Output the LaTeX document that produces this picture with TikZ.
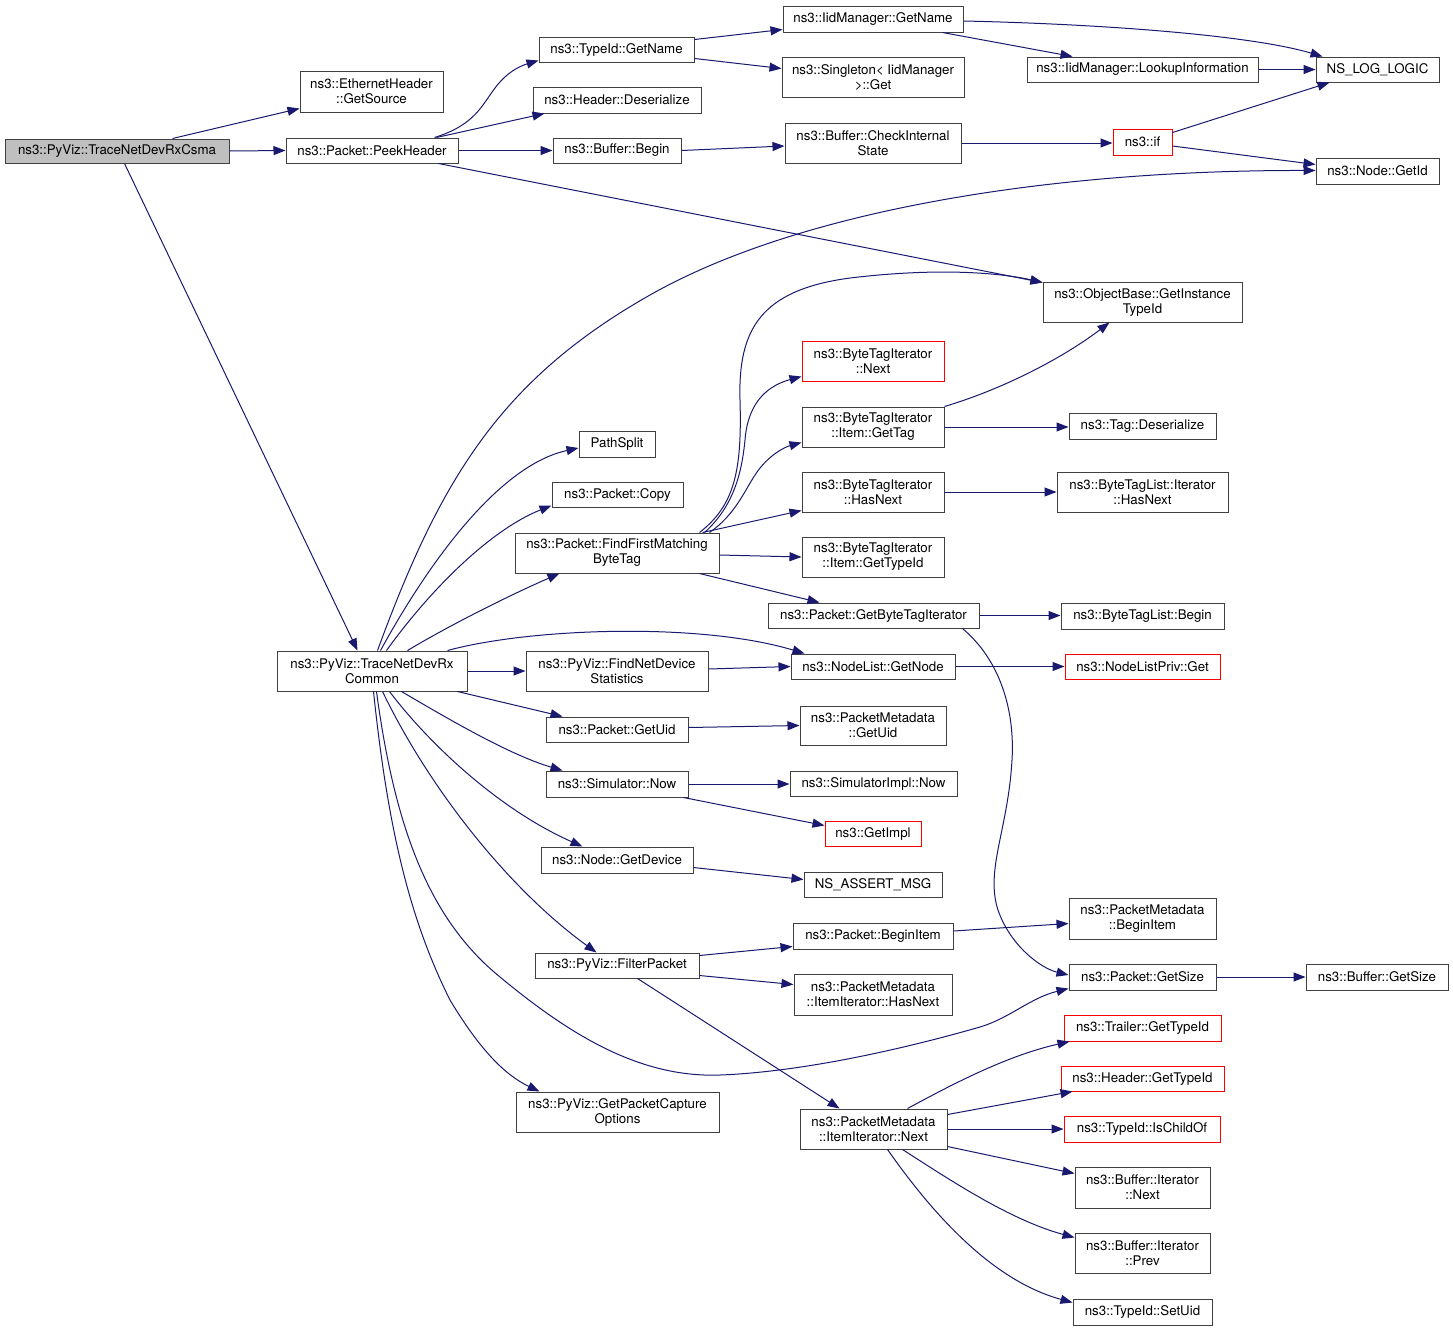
\documentclass[tikz,border=0pt]{standalone}
\usepackage{fontspec}
\setmainfont{TeX Gyre Heros}
\usetikzlibrary{arrows.meta}
\definecolor{navy}{HTML}{191970}
\definecolor{bord}{HTML}{404040}
\newcommand\nd[7]{\node[#7, minimum width={(#4-#2)*1pt}, minimum height={(#5-#3)*1pt}] (#1) at ({(#2+#4)/2},{-(#3+#5)/2}) {#6};}
\tikzset{
 bx/.style={draw=bord, line width=1pt, fill=white, inner sep=0pt, align=center, font=\fontsize{13.3}{15}\selectfont},
 rbx/.style={bx, draw=red},
 gbx/.style={bx, fill=black!25},
 conn/.style={draw=navy, line width=1pt, -{Triangle[length=12pt,width=9pt]}},
}
\begin{document}
\begin{tikzpicture}[x=1pt,y=1pt]
\useasboundingbox (0,0) rectangle (1453,-1331);
\fill[white] (0,0) rectangle (1453,-1331);
\nd{A}{5}{139}{229}{163}{ns3::PyViz::TraceNetDevRxCsma}{gbx}
\nd{eth}{300}{71}{443}{112}{ns3::EthernetHeader\\::GetSource}{bx}
\nd{peek}{286}{138}{458}{163}{ns3::Packet::PeekHeader}{bx}
\nd{tid}{539}{37}{694}{62}{ns3::TypeId::GetName}{bx}
\nd{hdes}{533}{87}{701}{113}{ns3::Header::Deserialize}{bx}
\nd{bbeg}{553}{138}{681}{163}{ns3::Buffer::Begin}{bx}
\nd{iidn}{783}{6}{963}{32}{ns3::IidManager::GetName}{bx}
\nd{sing}{782}{57}{964}{97}{ns3::Singleton< IidManager\\>::Get}{bx}
\nd{chk}{785}{123}{961}{163}{ns3::Buffer::CheckInternal\\State}{bx}
\nd{look}{1027}{57}{1258}{82}{ns3::IidManager::LookupInformation}{bx}
\nd{log}{1316}{57}{1439}{82}{NS\_LOG\_LOGIC}{bx}
\nd{nif}{1113}{129}{1172}{155}{ns3::if}{rbx}
\nd{gid}{1316}{158}{1439}{184}{ns3::Node::GetId}{bx}
\nd{obj}{1043}{282}{1242}{322}{ns3::ObjectBase::GetInstance\\TypeId}{bx}
\nd{btnext}{802}{341}{944}{381}{ns3::ByteTagIterator\\::Next}{rbx}
\nd{gtag}{802}{407}{944}{447}{ns3::ByteTagIterator\\::Item::GetTag}{bx}
\nd{hnext}{802}{472}{944}{512}{ns3::ByteTagIterator\\::HasNext}{bx}
\nd{igtid}{802}{537}{944}{577}{ns3::ByteTagIterator\\::Item::GetTypeId}{bx}
\nd{gbti}{768}{603}{979}{628}{ns3::Packet::GetByteTagIterator}{bx}
\nd{psplit}{579}{431}{655}{457}{PathSplit}{bx}
\nd{copy}{552}{482}{683}{507}{ns3::Packet::Copy}{bx}
\nd{ffm}{515}{533}{719}{573}{ns3::Packet::FindFirstMatching\\ByteTag}{bx}
\nd{tagdes}{1069}{413}{1216}{439}{ns3::Tag::Deserialize}{bx}
\nd{btlhn}{1057}{472}{1228}{512}{ns3::ByteTagList::Iterator\\::HasNext}{bx}
\nd{btlbeg}{1061}{603}{1224}{629}{ns3::ByteTagList::Begin}{bx}
\nd{nlpriv}{1065}{654}{1220}{679}{ns3::NodeListPriv::Get}{rbx}
\nd{com}{277}{651}{467}{691}{ns3::PyViz::TraceNetDevRx\\Common}{bx}
\nd{fnds}{526}{651}{708}{691}{ns3::PyViz::FindNetDevice\\Statistics}{bx}
\nd{nlget}{791}{654}{955}{679}{ns3::NodeList::GetNode}{bx}
\nd{guid}{546}{717}{688}{742}{ns3::Packet::GetUid}{bx}
\nd{pmguid}{800}{706}{946}{745}{ns3::PacketMetadata\\::GetUid}{bx}
\nd{snow}{546}{771}{688}{797}{ns3::Simulator::Now}{bx}
\nd{simpl}{790}{771}{957}{796}{ns3::SimulatorImpl::Now}{bx}
\nd{gimpl}{825}{821}{921}{846}{ns3::GetImpl}{rbx}
\nd{gdev}{541}{847}{693}{873}{ns3::Node::GetDevice}{bx}
\nd{assert}{804}{872}{942}{897}{NS\_ASSERT\_MSG}{bx}
\nd{pbeg}{793}{923}{953}{949}{ns3::Packet::BeginItem}{bx}
\nd{filt}{535}{953}{699}{978}{ns3::PyViz::FilterPacket}{bx}
\nd{pmhn}{794}{974}{952}{1015}{ns3::PacketMetadata\\::ItemIterator::HasNext}{bx}
\nd{cap}{516}{1092}{719}{1132}{ns3::PyViz::GetPacketCapture\\Options}{bx}
\nd{pmnext}{800}{1109}{947}{1149}{ns3::PacketMetadata\\::ItemIterator::Next}{bx}
\nd{pmbeg}{1069}{898}{1216}{939}{ns3::PacketMetadata\\::BeginItem}{bx}
\nd{gsz}{1069}{964}{1216}{990}{ns3::Packet::GetSize}{bx}
\nd{bgsz}{1306}{964}{1448}{990}{ns3::Buffer::GetSize}{bx}
\nd{trl}{1064}{1015}{1221}{1041}{ns3::Trailer::GetTypeId}{rbx}
\nd{hgt}{1061}{1066}{1224}{1091}{ns3::Header::GetTypeId}{rbx}
\nd{ischild}{1064}{1116}{1220}{1142}{ns3::TypeId::IsChildOf}{rbx}
\nd{binext}{1075}{1167}{1210}{1208}{ns3::Buffer::Iterator\\::Next}{bx}
\nd{biprev}{1075}{1233}{1210}{1273}{ns3::Buffer::Iterator\\::Prev}{bx}
\nd{setuid}{1073}{1299}{1212}{1325}{ns3::TypeId::SetUid}{bx}
% edges
\draw[conn] ([xshift=168pt]A.north west) -- ([yshift=4pt]eth.south west);
\draw[conn] (A.east) -- (peek.west);
\draw[conn] ([xshift=120pt]A.south west) -- ([xshift=81pt]com.north west);
\draw[conn] ([xshift=149pt]peek.north west) .. controls (475,-125) and (482,-105) .. (495,-88) .. controls (507,-72) and (520,-66) .. ([yshift=2pt]tid.south west);
\draw[conn] ([xshift=151pt]peek.north west) -- ([xshift=12pt]hdes.south west);
\draw[conn] (peek.east) -- (bbeg.west);
\draw[conn] ([xshift=-20pt]peek.south east) -- ([yshift=-1pt]obj.north west);
\draw[conn] ([yshift=-3pt]tid.north east) -- ([yshift=3pt]iidn.south west);
\draw[conn] ([yshift=4pt]tid.south east) -- ([yshift=-12pt]sing.north west);
\draw[conn] ([yshift=-2pt]iidn.east) .. controls (1100,-24) and (1250,-35) .. ([xshift=7pt]log.north west);
\draw[conn] ([xshift=-21pt]iidn.south east) -- ([xshift=46pt]look.north west);
\draw[conn] (look.east) -- (log.west);
\draw[conn] (bbeg.east) -- ([yshift=-3pt]chk.west);
\draw[conn] (chk.east) -- (nif.west |- chk.east);
\draw[conn] ([yshift=-4pt]nif.north east) -- ([xshift=14pt]log.south west);
\draw[conn] ([yshift=-4pt]nif.east) -- ([yshift=-7pt]gid.north west);
\draw[conn] ([xshift=101pt]com.north west) .. controls (440,-480) and (500,-380) .. (650,-295) .. controls (800,-210) and (1050,-170) .. ([yshift=-13pt]gid.north west);
\draw[conn] ([xshift=104pt]com.north west) .. controls (430,-560) and (500,-465) .. ([yshift=-4pt]psplit.west);
\draw[conn] ([xshift=110pt]com.north west) .. controls (430,-590) and (490,-530) .. ([yshift=2pt]copy.south west);
\draw[conn] ([xshift=131pt]com.north west) .. controls (450,-625) and (510,-595) .. ([xshift=45pt]ffm.south west);
\draw[conn] ([xshift=171pt]com.north west) .. controls (530,-628) and (700,-622) .. ([xshift=14pt]nlget.north west);
\draw[conn] (com.east) -- (fnds.west);
\draw[conn] ([xshift=-10pt]com.south east) -- ([xshift=17pt]guid.north west);
\draw[conn] ([xshift=125pt]com.south west) .. controls (450,-720) and (510,-755) .. ([xshift=17pt]snow.north west);
\draw[conn] ([xshift=113pt]com.south west) .. controls (430,-745) and (500,-810) .. ([xshift=42pt]gdev.north west);
\draw[conn] ([xshift=106pt]com.south west) .. controls (430,-790) and (510,-890) .. ([xshift=62pt]filt.north west);
\draw[conn] ([xshift=100pt]com.south west) .. controls (395,-830) and (430,-920) .. (500,-977) .. controls (570,-1035) and (640,-1078) .. (720,-1075) .. controls (800,-1072) and (900,-1050) .. (980,-1027) .. controls (1010,-1018) and (1030,-998) .. ([yshift=2pt]gsz.south west);
\draw[conn] ([xshift=97pt]com.south west) .. controls (388,-830) and (410,-920) .. (450,-1000) .. controls (480,-1050) and (505,-1075) .. ([xshift=24pt]cap.north west);
\draw[conn] ([xshift=185pt]ffm.north west) .. controls (735,-505) and (742,-470) .. (740,-400) .. controls (738,-330) and (760,-290) .. (850,-278) .. controls (950,-266) and (1010,-275) .. ([yshift=-1pt]obj.north west);
\draw[conn] ([xshift=190pt]ffm.north west) .. controls (735,-505) and (742,-470) .. (745,-440) .. controls (748,-400) and (770,-385) .. ([yshift=5pt]btnext.south west);
\draw[conn] ([xshift=195pt]ffm.north west) .. controls (735,-515) and (745,-490) .. (755,-475) .. controls (768,-455) and (785,-447) .. ([yshift=5pt]gtag.south west);
\draw[conn] ([xshift=188pt]ffm.north west) -- ([yshift=2pt]hnext.south west);
\draw[conn] ([yshift=-2pt]ffm.east) -- (igtid.west);
\draw[conn] ([xshift=185pt]ffm.south west) -- ([xshift=52pt]gbti.north west);
\draw[conn] (gtag.north east) .. controls (1000,-390) and (1060,-360) .. ([xshift=67pt]obj.south west);
\draw[conn] (gtag.east) -- (tagdes.west |- gtag.east);
\draw[conn] (hnext.east) -- (btlhn.west |- hnext.east);
\draw[conn] (gbti.east) -- (btlbeg.west |- gbti.east);
\draw[conn] ([xshift=-17pt]gbti.south east) .. controls (1000,-660) and (1015,-710) .. (1012,-760) .. controls (1008,-830) and (985,-870) .. (998,-910) .. controls (1010,-945) and (1040,-968) .. ([yshift=2pt]gsz.west);
\draw[conn] ([yshift=2pt]fnds.east) -- (nlget.west);
\draw[conn] (nlget.east) -- (nlpriv.west |- nlget.east);
\draw[conn] ([yshift=2pt]guid.east) -- (pmguid.west);
\draw[conn] (snow.east) -- (simpl.west |- snow.east);
\draw[conn] ([xshift=-5pt]snow.south east) -- ([yshift=-5pt]gimpl.north west);
\draw[conn] ([yshift=6pt]gdev.south east) -- ([yshift=-8pt]assert.north west);
\draw[conn] ([yshift=-3pt]filt.north east) -- ([yshift=3pt]pbeg.south west);
\draw[conn] ([yshift=3pt]filt.south east) -- ([yshift=-11pt]pmhn.north west);
\draw[conn] ([xshift=103pt]filt.south west) -- ([xshift=40pt]pmnext.north west);
\draw[conn] ([yshift=5pt]pbeg.east) -- ([yshift=-5pt]pmbeg.west);
\draw[conn] (gsz.east) -- (bgsz.west);
\draw[conn] ([xshift=108pt]pmnext.north west) .. controls (960,-1080) and (1010,-1055) .. ([xshift=6pt]trl.south west);
\draw[conn] ([yshift=-6pt]pmnext.north east) -- ([xshift=12pt]hgt.south west);
\draw[conn] (pmnext.east) -- (ischild.west);
\draw[conn] ([yshift=3pt]pmnext.south east) -- ([yshift=-7pt]binext.north west);
\draw[conn] ([xshift=103pt]pmnext.south west) .. controls (950,-1180) and (1010,-1220) .. ([yshift=-5pt]biprev.north west);
\draw[conn] ([xshift=88pt]pmnext.south west) .. controls (930,-1210) and (990,-1280) .. ([yshift=-4pt]setuid.north west);
\end{tikzpicture}
\end{document}
